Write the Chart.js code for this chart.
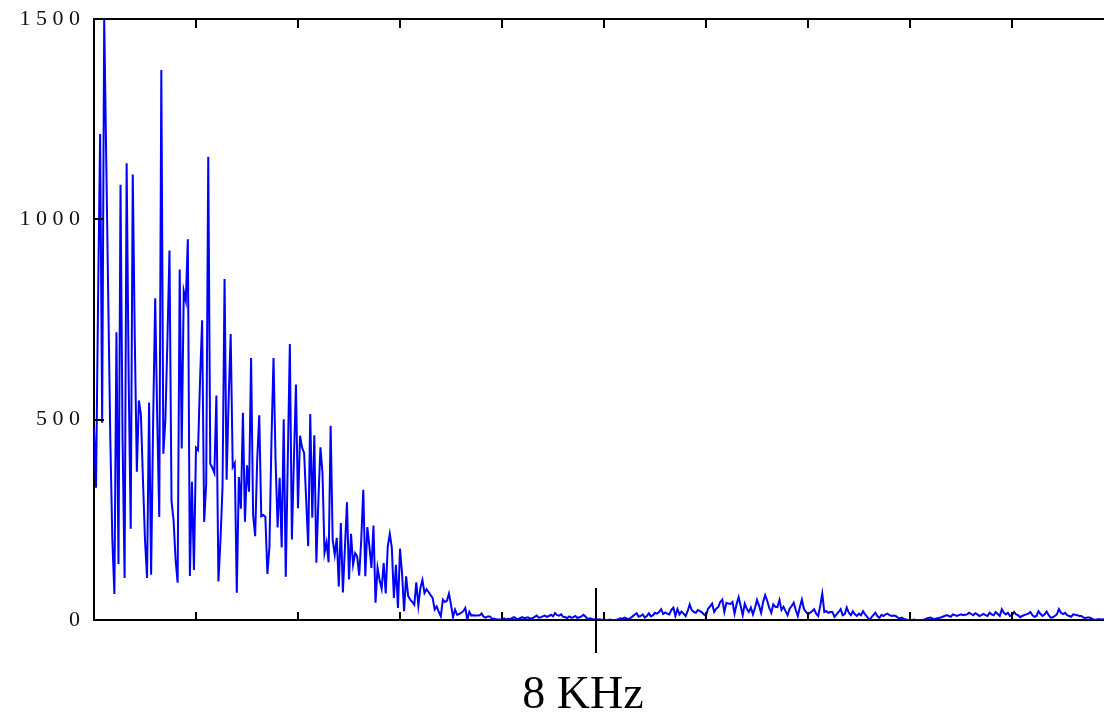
<!DOCTYPE html>
<html lang="en">
<head>
<meta charset="UTF-8">
<title>Spectrum</title>
<script src="https://cdn.jsdelivr.net/npm/chart.js"></script>
<style>
  html, body { margin: 0; padding: 0; background: #fff; overflow: hidden; }
  #wrap { width: 1130px; height: 714px; }
</style>
</head>
<body>
<div id="wrap"><canvas id="spectrum" width="1130" height="714"></canvas></div>
<script>
// magnitude per FFT bin (bin 0 .. 500)
const magnitude = [
  478, 330, 800, 1213, 492, 1500, 1150, 800, 450, 200,
  65, 718, 140, 1086, 450, 105, 1140, 600, 228, 1112,
  700, 370, 548, 512, 350, 200, 105, 543, 113, 500,
  803, 500, 257, 1373, 415, 500, 700, 922, 296, 250,
  150, 93, 875, 428, 821, 797, 950, 110, 345, 125,
  430, 424, 600, 748, 245, 340, 1156, 390, 380, 367,
  560, 96, 200, 332, 851, 350, 550, 714, 382, 392,
  68, 357, 278, 517, 245, 386, 320, 654, 262, 209,
  400, 511, 259, 262, 257, 115, 183, 450, 654, 400,
  231, 355, 181, 501, 108, 400, 689, 201, 400, 588,
  279, 460, 430, 417, 300, 184, 514, 255, 461, 143,
  300, 431, 367, 168, 194, 144, 485, 200, 163, 205,
  84, 242, 69, 180, 294, 101, 215, 138, 167, 159,
  111, 200, 325, 109, 232, 184, 130, 236, 43, 130,
  100, 78, 142, 66, 184, 215, 180, 55, 138, 30,
  178, 117, 22, 109, 60, 51, 45, 38, 94, 36,
  80, 100, 67, 77, 70, 62, 55, 26, 34, 20,
  9, 51, 45, 48, 66, 38, 7, 26, 13, 15,
  18, 22, 30, 1, 20, 11, 12, 11, 11, 12,
  16, 8, 6, 9, 9, 4, 3, 2, 1, 1,
  2, 4, 1, 3, 2, 5, 7, 3, 2, 5,
  7, 4, 6, 6, 3, 5, 8, 11, 6, 7,
  9, 11, 8, 10, 13, 9, 17, 12, 11, 14,
  8, 7, 5, 9, 6, 7, 10, 5, 7, 9,
  13, 8, 2, 4, 3, 1, 3, 1, 2, 0,
  1, 0, 0, 1, 0, 0, 0, 2, 4, 3,
  6, 4, 2, 5, 9, 13, 17, 8, 10, 14,
  6, 10, 17, 9, 12, 18, 16, 20, 27, 15,
  19, 16, 14, 25, 31, 10, 27, 14, 21, 16,
  10, 22, 39, 25, 20, 18, 25, 22, 19, 14,
  10, 28, 34, 41, 20, 28, 32, 45, 51, 20,
  43, 41, 40, 45, 16, 40, 57, 35, 12, 41,
  28, 20, 31, 14, 30, 50, 36, 18, 45, 62,
  48, 30, 18, 39, 33, 32, 50, 25, 33, 22,
  12, 28, 35, 43, 25, 10, 32, 51, 28, 20,
  14, 18, 22, 27, 16, 10, 35, 66, 20, 22,
  18, 20, 20, 8, 14, 20, 27, 12, 15, 31,
  18, 12, 22, 14, 10, 16, 12, 22, 14, 8,
  0, 6, 12, 18, 10, 5, 13, 10, 14, 16,
  12, 10, 11, 10, 6, 4, 6, 3, 1, 0,
  0, 0, 1, 0, 0, 0, 0, 1, 3, 5,
  6, 4, 2, 4, 5, 6, 8, 10, 12, 10,
  8, 14, 12, 10, 12, 14, 12, 13, 14, 18,
  15, 12, 17, 14, 10, 12, 15, 12, 10, 18,
  14, 12, 20, 15, 10, 27, 18, 14, 18, 10,
  12, 20, 14, 12, 7, 10, 12, 14, 16, 20,
  12, 8, 10, 22, 15, 10, 14, 21, 12, 6,
  7, 10, 14, 27, 18, 15, 18, 12, 10, 8,
  14, 13, 12, 10, 10, 6, 5, 6, 6, 4,
  1, 0, 2, 2, 1, 2, 1, 2, 1, 1,
  1
];

const yTicks = [0, 500, 1000, 1500];
const xTicks = [0, 50, 100, 150, 200, 250, 300, 350, 400, 450, 500];
const markerBin = 246;
const markerLabel = '8 KHz';

const serif = '"Liberation Serif", "Times New Roman", serif';

// chart.js has no inward tick marks, so draw them here
const inwardTicks = {
  id: 'inwardTicks',
  afterDraw(chart) {
    const { ctx, chartArea, scales } = chart;
    const x = scales.x, y = scales.y;
    ctx.save();
    ctx.strokeStyle = '#000';
    ctx.lineWidth = 2;
    ctx.beginPath();
    xTicks.forEach(t => {
      if (t === 0) return;
      const px = Math.round(x.getPixelForValue(t));
      ctx.moveTo(px, chartArea.bottom);
      ctx.lineTo(px, chartArea.bottom - 8);
      ctx.moveTo(px, chartArea.top);
      ctx.lineTo(px, chartArea.top + 9);
    });
    yTicks.forEach(t => {
      if (t === 0 || t === 1500) return;
      const py = Math.round(y.getPixelForValue(t));
      ctx.moveTo(chartArea.left, py);
      ctx.lineTo(chartArea.left + 10, py);
    });
    const mx = Math.round(x.getPixelForValue(markerBin));
    ctx.moveTo(mx, chartArea.bottom - 32);
    ctx.lineTo(mx, chartArea.bottom + 33);
    ctx.stroke();

    ctx.fillStyle = '#000';
    ctx.font = '46px ' + serif;
    ctx.textAlign = 'center';
    ctx.textBaseline = 'alphabetic';
    ctx.fillText(markerLabel, mx - 13, chartArea.bottom + 88);
    ctx.restore();
  }
};

const axisBorder = { display: true, color: '#000', width: 2 };
const noGrid = { display: true, drawOnChartArea: false, drawTicks: false };

new Chart(document.getElementById('spectrum'), {
  type: 'line',
  data: {
    datasets: [{
      data: magnitude.map((v, i) => ({ x: i, y: v })),
      borderColor: '#0000ff',
      borderWidth: 2,
      pointRadius: 0,
      tension: 0,
      fill: false
    }]
  },
  options: {
    responsive: false,
    animation: false,
    devicePixelRatio: 1,
    layout: { padding: { left: 0, right: 16, top: 0, bottom: 0 } },
    plugins: { legend: { display: false }, tooltip: { enabled: false } },
    scales: {
      x: {
        type: 'linear', position: 'bottom', min: 0, max: 500,
        afterBuildTicks: s => { s.ticks = xTicks.map(v => ({ value: v })); },
        ticks: { display: false },
        grid: noGrid, border: axisBorder,
        afterFit: s => { s.height = 94; s.paddingLeft = 0; s.paddingRight = 0; }
      },
      xTop: {
        type: 'linear', position: 'top', min: 0, max: 500, display: true,
        ticks: { display: false },
        grid: noGrid, border: axisBorder,
        afterFit: s => { s.height = 19; s.paddingLeft = 0; s.paddingRight = 0; }
      },
      y: {
        type: 'linear', position: 'left', min: 0, max: 1500,
        afterBuildTicks: s => { s.ticks = yTicks.map(v => ({ value: v })); },
        ticks: {
          callback: v => String(v).split('').join(' '),
          font: { family: serif, size: 22 },
          color: '#111',
          padding: 14
        },
        grid: noGrid, border: axisBorder,
        afterFit: s => { s.width = 94; s.paddingTop = 0; s.paddingBottom = 0; }
      }
    }
  },
  plugins: [inwardTicks]
});
</script>
</body>
</html>
